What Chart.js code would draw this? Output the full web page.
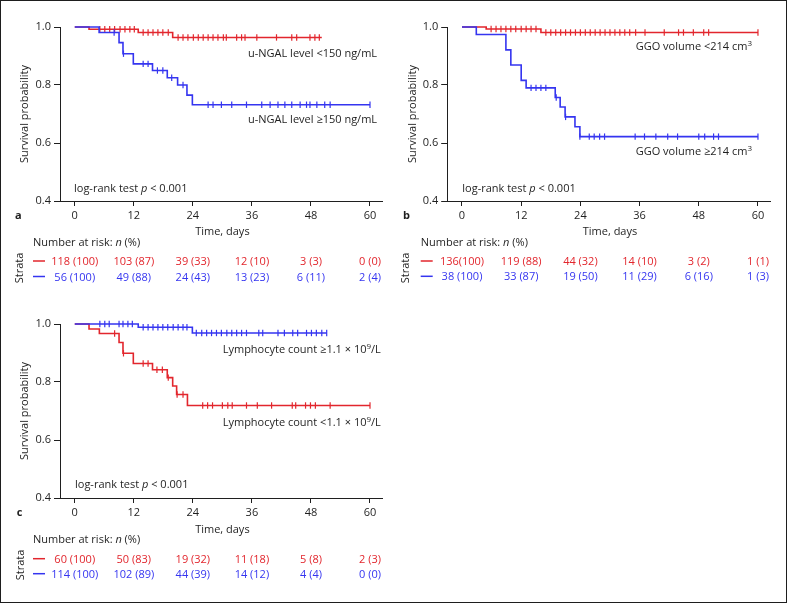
<!DOCTYPE html>
<html>
<head>
<meta charset="utf-8">
<script src="https://cdn.jsdelivr.net/npm/chart.js@4.4.1/dist/chart.umd.min.js"></script>
<style>
html,body{margin:0;padding:0;background:#fff;}
#wrap{position:relative;width:787px;height:603px;overflow:hidden;background:#fff;}
canvas{position:absolute;display:block;}
#frame{position:absolute;left:0;top:0;width:787px;height:603px;box-sizing:border-box;border:1px solid #1e1e1e;pointer-events:none;}
</style>
</head>
<body>
<div id="wrap">
  <canvas id="ca" width="390" height="300" style="left:0;top:0"></canvas>
  <canvas id="cb" width="397" height="300" style="left:390px;top:0"></canvas>
  <canvas id="cc" width="390" height="303" style="left:0;top:300px"></canvas>
  <div id="frame"></div>
</div>
<script>
// ---------------- DATA ----------------
const xTicks = [0, 12, 24, 36, 48, 60];
const yTicks = [0.4, 0.6, 0.8, 1.0];

// Panel a: u-NGAL
const aLowTimes  = [0, 2.9, 12.9, 19.9, 50.2];
const aLowSurv   = [1, 0.992, 0.981, 0.964, 0.964];
const aLowCens   = [5.1, 6.1, 7.1, 8.1, 9.2, 10.2, 11.2, 12.1, 13.9, 14.9, 15.9, 16.9, 17.9, 19.0,
                    21.0, 22.0, 23.0, 24.1, 25.1, 26.1, 27.1, 28.1, 29.1, 30.2, 30.8, 32.9, 33.9, 34.6,
                    37.0, 41.0, 44.1, 45.1, 47.8, 48.8, 49.7];
const aHighTimes = [0, 4.95, 9.0, 9.8, 11.9, 15.8, 18.8, 20.9, 22.8, 23.9, 60];
const aHighSurv  = [1, 0.981, 0.946, 0.908, 0.873, 0.850, 0.825, 0.800, 0.765, 0.732, 0.732];
const aHighCens  = [8.0, 9.9, 13.9, 14.9, 16.8, 17.9, 19.7, 22.0, 27.1, 28.1, 29.8, 31.9, 34.9, 38.0,
                    39.7, 41.3, 42.7, 44.1, 45.8, 47.1, 47.8, 49.2, 50.8, 51.9, 60];
const aRiskLow   = ['118 (100)', '103 (87)', '39 (33)', '12 (10)', '3 (3)', '0 (0)'];
const aRiskHigh  = ['56 (100)', '49 (88)', '24 (43)', '13 (23)', '6 (11)', '2 (4)'];

// Panel b: GGO volume
const bLowTimes  = [0, 4.9, 16.0, 60];
const bLowSurv   = [1, 0.993, 0.981, 0.981];
const bLowCens   = [5.9, 6.9, 7.9, 8.9, 9.9, 10.9, 12.0, 13.0, 14.0, 15.0, 17.0, 18.0, 19.0, 20.0,
                    21.0, 22.0, 23.0, 24.0, 25.0, 26.0, 27.0, 28.0, 29.0, 30.0, 31.0, 32.0, 33.0, 34.0,
                    35.2, 37.1, 41.0, 43.9, 44.9, 46.9, 49.0, 50.0, 60];
const bHighTimes = [0, 2.9, 8.9, 9.9, 12.0, 13.0, 18.9, 19.9, 20.9, 22.9, 23.9, 60];
const bHighSurv  = [1, 0.974, 0.921, 0.869, 0.816, 0.790, 0.757, 0.724, 0.690, 0.656, 0.622, 0.622];
const bHighCens  = [14.0, 15.0, 16.0, 17.0, 19.1, 21.0, 23.9, 25.8, 26.8, 27.9, 28.9, 35.1, 37.0,
                    39.3, 41.7, 43.7, 48.0, 49.2, 51.0, 52.0, 60];
const bRiskLow   = ['136(100)', '119 (88)', '44 (32)', '14 (10)', '3 (2)', '1 (1)'];
const bRiskHigh  = ['38 (100)', '33 (87)', '19 (50)', '11 (29)', '6 (16)', '1 (3)'];

// Panel c: Lymphocyte count
const cHighTimes = [0, 12.9, 23.9, 51.2];
const cHighSurv  = [1, 0.989, 0.969, 0.969];
const cHighCens  = [5.1, 6.1, 7.0, 9.0, 9.8, 10.8, 11.7, 13.9, 14.9, 15.9, 16.9, 17.9, 18.9, 20.0,
                    21.0, 22.0, 22.8, 24.7, 25.8, 26.8, 27.8, 28.8, 29.8, 30.9, 31.9, 32.9, 33.9, 34.9,
                    37.4, 38.2, 41.3, 42.6, 44.3, 45.3, 47.1, 48.1, 49.1, 50.2, 51.2];
const cLowTimes  = [0, 2.9, 5.0, 9.0, 9.8, 11.9, 15.8, 18.8, 19.9, 20.7, 22.9, 60];
const cLowSurv   = [1, 0.983, 0.967, 0.936, 0.899, 0.864, 0.842, 0.815, 0.786, 0.757, 0.719, 0.719];
const cLowCens   = [8.1, 9.9, 13.9, 14.9, 16.7, 17.8, 19.0, 20.8, 22.0, 26.0, 27.0, 28.0, 30.0, 31.1,
                    32.0, 34.9, 37.1, 40.0, 44.2, 44.9, 46.9, 47.9, 48.9, 51.9, 60];
const cRiskLow   = ['60 (100)', '50 (83)', '19 (32)', '11 (18)', '5 (8)', '2 (3)'];
const cRiskHigh  = ['114 (100)', '102 (89)', '44 (39)', '14 (12)', '4 (4)', '0 (0)'];

// ---------------- STYLE ----------------
const FONT = "'Open Sans', 'Noto Sans', 'DejaVu Sans', sans-serif";
const RED = '#E2262D';
const BLUE = '#3535F0';
const INK = '#1f1f1f';

function survAt(times, surv, t) {
  let s = surv[0];
  for (let i = 0; i < times.length; i++) { if (times[i] <= t) s = surv[i]; }
  return s;
}
function fontOf(s) {
  return (s.it ? 'italic ' : '') + (s.b ? 'bold ' : '') + (s.sup ? 8 : 11) + 'px ' + FONT;
}
function drawSegs(ctx, list, x, y, align) {
  const w = list.map(s => { ctx.font = fontOf(s); return ctx.measureText(s.t).width; });
  const total = w.reduce((a, b) => a + b, 0);
  let cx = align === 'center' ? x - total / 2 : (align === 'right' ? x - total : x);
  ctx.textAlign = 'left';
  ctx.textBaseline = 'alphabetic';
  list.forEach((s, i) => {
    ctx.font = fontOf(s);
    ctx.fillText(s.t, cx, y - (s.sup ? 4.5 : 0));
    cx += w[i];
  });
}
function drawRot(ctx, text, cx, cy) {
  ctx.save();
  ctx.translate(cx, cy);
  ctx.rotate(-Math.PI / 2);
  ctx.font = '11px ' + FONT;
  ctx.textAlign = 'center';
  ctx.textBaseline = 'middle';
  ctx.fillText(text, 0, 0);
  ctx.restore();
}

function makePanel(id, P) {
  const datasets = [];
  P.series.forEach(s => {
    datasets.push({
      data: s.times.map((t, i) => ({ x: t, y: s.surv[i] })),
      borderColor: s.color, borderWidth: 1.6, stepped: 'before',
      pointRadius: 0, fill: false, clip: false
    });
    datasets.push({
      data: s.cens.map(t => ({ x: t, y: survAt(s.times, s.surv, t) })),
      showLine: false, pointStyle: 'line', pointRotation: 90, pointRadius: 3.2,
      pointBorderColor: s.color, pointBorderWidth: 1.2, borderColor: s.color, clip: false
    });
  });

  const textPlugin = {
    id: 'texts',
    afterDraw(chart) {
      const ctx = chart.ctx;
      const xs = chart.scales.x;
      ctx.save();
      ctx.fillStyle = INK;
      drawRot(ctx, 'Survival probability', P.yTitle[0], P.yTitle[1]);
      drawSegs(ctx, [{ t: P.letter, b: true }], P.letterPos[0], P.letterPos[1], 'left');
      drawSegs(ctx, [{ t: 'Time, days' }], xs.getPixelForValue(30), P.xTitleY, 'center');
      drawSegs(ctx, [{ t: 'Number at risk: ' }, { t: 'n', it: true }, { t: ' (%)' }], P.nar[0], P.nar[1], 'left');
      drawRot(ctx, 'Strata', P.strata[0], P.strata[1]);
      drawSegs(ctx, [{ t: 'log-rank test ' }, { t: 'p', it: true }, { t: ' < 0.001' }], P.logrank[0], P.logrank[1], 'left');
      P.labels.forEach(l => drawSegs(ctx, l.segs, l.x, l.y, 'left'));
      P.risk.forEach(r => {
        ctx.strokeStyle = r.color;
        ctx.lineWidth = 1.5;
        ctx.beginPath();
        ctx.moveTo(P.dash[0], r.y - 4);
        ctx.lineTo(P.dash[1], r.y - 4);
        ctx.stroke();
        ctx.fillStyle = r.color;
        r.labels.forEach((lab, i) => drawSegs(ctx, [{ t: lab }], xs.getPixelForValue(xTicks[i]), r.y, 'center'));
      });
      ctx.restore();
    }
  };

  const axisCommon = {
    grid: { drawOnChartArea: false, drawTicks: true, color: INK, lineWidth: 1 },
    border: { display: true, color: INK, width: 1 },
  };

  return new Chart(document.getElementById(id), {
    type: 'line',
    data: { datasets },
    options: {
      responsive: false,
      animation: false,
      events: [],
      layout: { padding: { left: 0, right: P.padR, top: P.padT, bottom: P.padB } },
      plugins: { legend: { display: false }, tooltip: { enabled: false } },
      scales: {
        x: {
          type: 'linear', min: -3, max: 62.5,
          afterBuildTicks: s => { s.ticks = xTicks.map(v => ({ value: v })); },
          afterFit: s => { s.height = 20; },
          grid: Object.assign({}, axisCommon.grid, { tickLength: 5 }),
          border: axisCommon.border,
          ticks: { color: INK, font: { family: FONT, size: 11 }, padding: 3, maxRotation: 0, autoSkip: false,
                   callback: v => String(v) }
        },
        y: {
          type: 'linear', min: 0.4, max: 1.0,
          afterBuildTicks: s => { s.ticks = yTicks.map(v => ({ value: v })); },
          afterFit: s => { s.width = P.yw; },
          grid: Object.assign({}, axisCommon.grid, { tickLength: 6 }),
          border: axisCommon.border,
          ticks: { color: INK, font: { family: FONT, size: 11 }, padding: 3,
                   callback: v => Number(v).toFixed(1) }
        }
      }
    },
    plugins: [textPlugin]
  });
}

makePanel('ca', {
  yw: 60, padR: 7.7, padT: 27, padB: 79,
  series: [
    { times: aHighTimes, surv: aHighSurv, cens: aHighCens, color: BLUE },
    { times: aLowTimes, surv: aLowSurv, cens: aLowCens, color: RED }
  ],
  yTitle: [25, 114], letter: 'a', letterPos: [15, 219], xTitleY: 235,
  nar: [33, 246], strata: [20, 268], dash: [33, 45], logrank: [74, 191.5],
  labels: [
    { x: 248, y: 56.5, segs: [{ t: 'u-NGAL level <150 ng/mL' }] },
    { x: 248, y: 123, segs: [{ t: 'u-NGAL level \u2265150 ng/mL' }] }
  ],
  risk: [ { labels: aRiskLow, color: RED, y: 265 }, { labels: aRiskHigh, color: BLUE, y: 280.5 } ]
});

makePanel('cb', {
  yw: 57.2, padR: 16.7, padT: 27, padB: 79,
  series: [
    { times: bHighTimes, surv: bHighSurv, cens: bHighCens, color: BLUE },
    { times: bLowTimes, surv: bLowSurv, cens: bLowCens, color: RED }
  ],
  yTitle: [23, 114], letter: 'b', letterPos: [13, 218.7], xTitleY: 235,
  nar: [30.7, 245.7], strata: [16, 268], dash: [30.7, 42.7], logrank: [72.3, 191.7],
  labels: [
    { x: 245.7, y: 50, segs: [{ t: 'GGO volume <214 cm' }, { t: '3', sup: true }] },
    { x: 245.7, y: 155, segs: [{ t: 'GGO volume \u2265214 cm' }, { t: '3', sup: true }] }
  ],
  risk: [ { labels: bRiskLow, color: RED, y: 265 }, { labels: bRiskHigh, color: BLUE, y: 280.3 } ]
});

makePanel('cc', {
  yw: 60, padR: 7.7, padT: 24, padB: 85,
  series: [
    { times: cHighTimes, surv: cHighSurv, cens: cHighCens, color: BLUE },
    { times: cLowTimes, surv: cLowSurv, cens: cLowCens, color: RED }
  ],
  yTitle: [25, 111], letter: 'c', letterPos: [16.7, 215.5], xTitleY: 233,
  nar: [33, 243.3], strata: [21, 265], dash: [33, 45], logrank: [75, 187.7],
  labels: [
    { x: 222.7, y: 53.3, segs: [{ t: 'Lymphocyte count \u22651.1 \u00d7 10' }, { t: '9', sup: true }, { t: '/L' }] },
    { x: 222.7, y: 126, segs: [{ t: 'Lymphocyte count <1.1 \u00d7 10' }, { t: '9', sup: true }, { t: '/L' }] }
  ],
  risk: [ { labels: cRiskLow, color: RED, y: 262.7 }, { labels: cRiskHigh, color: BLUE, y: 277.7 } ]
});
</script>
</body>
</html>
